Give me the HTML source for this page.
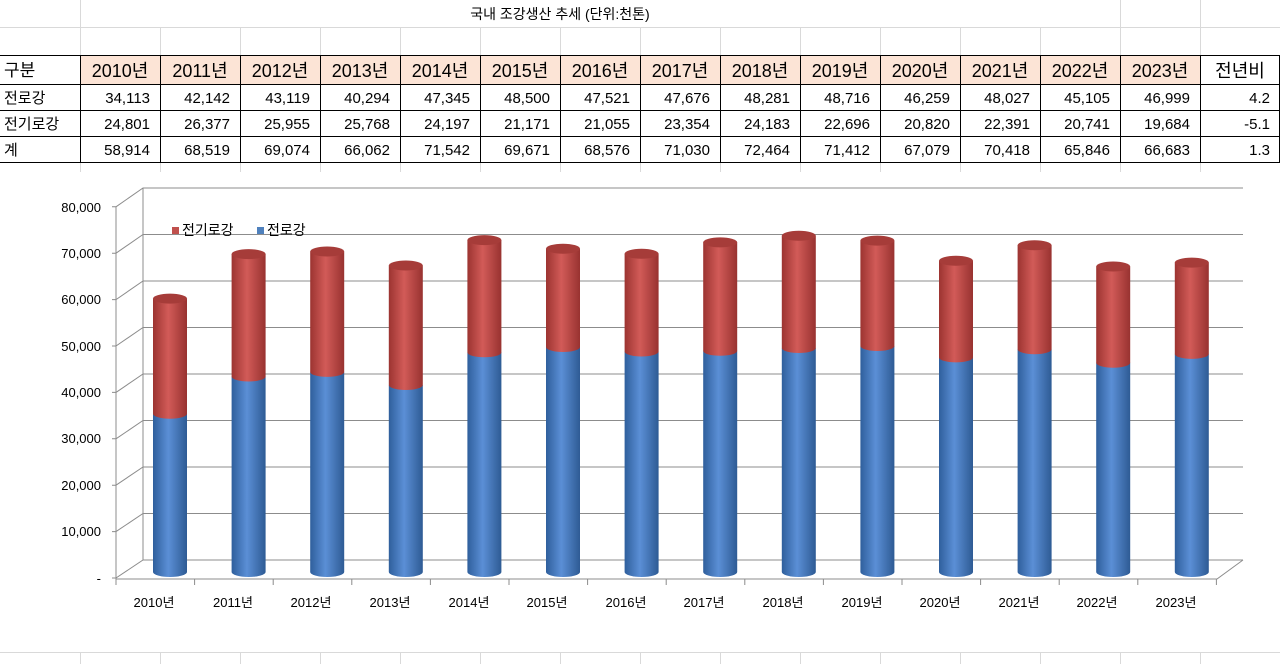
<!DOCTYPE html>
<html><head><meta charset="utf-8"><style>
body{margin:0;background:#fff}
svg{display:block}
text{font-family:"Liberation Sans","Noto Sans CJK KR",sans-serif;fill:#000}
</style></head><body>
<svg width="1280" height="664" viewBox="0 0 1280 664" xmlns="http://www.w3.org/2000/svg">
<defs>
<linearGradient id="gb" x1="0" x2="1" y1="0" y2="0"><stop offset="0" stop-color="#2f5f9c"/><stop offset="0.45" stop-color="#5b8fd6"/><stop offset="1" stop-color="#2e5b94"/></linearGradient>
<linearGradient id="gr" x1="0" x2="1" y1="0" y2="0"><stop offset="0" stop-color="#9c3431"/><stop offset="0.45" stop-color="#d25b58"/><stop offset="1" stop-color="#983230"/></linearGradient>
</defs>
<rect width="1280" height="664" fill="#fff"/>
<g stroke="#d9d9d9" stroke-width="1">
<line x1="0" y1="27.5" x2="1280" y2="27.5"/><line x1="0" y1="55.5" x2="1280" y2="55.5"/>
<line x1="80.5" y1="0" x2="80.5" y2="55"/><line x1="160.5" y1="27" x2="160.5" y2="55"/><line x1="240.5" y1="27" x2="240.5" y2="55"/><line x1="320.5" y1="27" x2="320.5" y2="55"/><line x1="400.5" y1="27" x2="400.5" y2="55"/><line x1="480.5" y1="27" x2="480.5" y2="55"/><line x1="560.5" y1="27" x2="560.5" y2="55"/><line x1="640.5" y1="27" x2="640.5" y2="55"/><line x1="720.5" y1="27" x2="720.5" y2="55"/><line x1="800.5" y1="27" x2="800.5" y2="55"/><line x1="880.5" y1="27" x2="880.5" y2="55"/><line x1="960.5" y1="27" x2="960.5" y2="55"/><line x1="1040.5" y1="27" x2="1040.5" y2="55"/><line x1="1120.5" y1="0" x2="1120.5" y2="55"/><line x1="1200.5" y1="0" x2="1200.5" y2="55"/>
<line x1="80.5" y1="162" x2="80.5" y2="172"/><line x1="160.5" y1="162" x2="160.5" y2="172"/><line x1="240.5" y1="162" x2="240.5" y2="172"/><line x1="320.5" y1="162" x2="320.5" y2="172"/><line x1="400.5" y1="162" x2="400.5" y2="172"/><line x1="480.5" y1="162" x2="480.5" y2="172"/><line x1="560.5" y1="162" x2="560.5" y2="172"/><line x1="640.5" y1="162" x2="640.5" y2="172"/><line x1="720.5" y1="162" x2="720.5" y2="172"/><line x1="800.5" y1="162" x2="800.5" y2="172"/><line x1="880.5" y1="162" x2="880.5" y2="172"/><line x1="960.5" y1="162" x2="960.5" y2="172"/><line x1="1040.5" y1="162" x2="1040.5" y2="172"/><line x1="1120.5" y1="162" x2="1120.5" y2="172"/><line x1="1200.5" y1="162" x2="1200.5" y2="172"/>
<line x1="0" y1="652.5" x2="1280" y2="652.5"/>
<line x1="80.5" y1="652" x2="80.5" y2="664"/><line x1="160.5" y1="652" x2="160.5" y2="664"/><line x1="240.5" y1="652" x2="240.5" y2="664"/><line x1="320.5" y1="652" x2="320.5" y2="664"/><line x1="400.5" y1="652" x2="400.5" y2="664"/><line x1="480.5" y1="652" x2="480.5" y2="664"/><line x1="560.5" y1="652" x2="560.5" y2="664"/><line x1="640.5" y1="652" x2="640.5" y2="664"/><line x1="720.5" y1="652" x2="720.5" y2="664"/><line x1="800.5" y1="652" x2="800.5" y2="664"/><line x1="880.5" y1="652" x2="880.5" y2="664"/><line x1="960.5" y1="652" x2="960.5" y2="664"/><line x1="1040.5" y1="652" x2="1040.5" y2="664"/><line x1="1120.5" y1="652" x2="1120.5" y2="664"/><line x1="1200.5" y1="652" x2="1200.5" y2="664"/>
</g>
<text x="560" y="19" font-size="14" text-anchor="middle">국내 조강생산 추세 (단위:천톤)</text>
<rect x="80" y="55" width="1120" height="29" fill="#fce4d6"/>
<g stroke="#000" stroke-width="1" fill="none">
<line x1="0" y1="55.5" x2="1280" y2="55.5"/><line x1="0" y1="84.5" x2="1280" y2="84.5"/><line x1="0" y1="110.5" x2="1280" y2="110.5"/><line x1="0" y1="136.5" x2="1280" y2="136.5"/><line x1="0" y1="162.5" x2="1280" y2="162.5"/>
<line x1="80.5" y1="55" x2="80.5" y2="162"/><line x1="160.5" y1="55" x2="160.5" y2="162"/><line x1="240.5" y1="55" x2="240.5" y2="162"/><line x1="320.5" y1="55" x2="320.5" y2="162"/><line x1="400.5" y1="55" x2="400.5" y2="162"/><line x1="480.5" y1="55" x2="480.5" y2="162"/><line x1="560.5" y1="55" x2="560.5" y2="162"/><line x1="640.5" y1="55" x2="640.5" y2="162"/><line x1="720.5" y1="55" x2="720.5" y2="162"/><line x1="800.5" y1="55" x2="800.5" y2="162"/><line x1="880.5" y1="55" x2="880.5" y2="162"/><line x1="960.5" y1="55" x2="960.5" y2="162"/><line x1="1040.5" y1="55" x2="1040.5" y2="162"/><line x1="1120.5" y1="55" x2="1120.5" y2="162"/><line x1="1200.5" y1="55" x2="1200.5" y2="162"/><line x1="1279.5" y1="55" x2="1279.5" y2="162"/>
</g>
<g font-size="18" text-anchor="middle">
<text x="120" y="77">2010년</text><text x="200" y="77">2011년</text><text x="280" y="77">2012년</text><text x="360" y="77">2013년</text><text x="440" y="77">2014년</text><text x="520" y="77">2015년</text><text x="600" y="77">2016년</text><text x="680" y="77">2017년</text><text x="760" y="77">2018년</text><text x="840" y="77">2019년</text><text x="920" y="77">2020년</text><text x="1000" y="77">2021년</text><text x="1080" y="77">2022년</text><text x="1160" y="77">2023년</text><text x="1240" y="77">전년비</text>
</g>
<g font-size="15">
<text x="4" y="76" font-size="17">구분</text><text x="4" y="103">전로강</text><text x="4" y="129">전기로강</text><text x="4" y="155">계</text>
</g>
<g font-size="15" text-anchor="end">
<text x="150" y="103">34,113</text><text x="230" y="103">42,142</text><text x="310" y="103">43,119</text><text x="390" y="103">40,294</text><text x="470" y="103">47,345</text><text x="550" y="103">48,500</text><text x="630" y="103">47,521</text><text x="710" y="103">47,676</text><text x="790" y="103">48,281</text><text x="870" y="103">48,716</text><text x="950" y="103">46,259</text><text x="1030" y="103">48,027</text><text x="1110" y="103">45,105</text><text x="1190" y="103">46,999</text><text x="1270" y="103">4.2</text>
<text x="150" y="129">24,801</text><text x="230" y="129">26,377</text><text x="310" y="129">25,955</text><text x="390" y="129">25,768</text><text x="470" y="129">24,197</text><text x="550" y="129">21,171</text><text x="630" y="129">21,055</text><text x="710" y="129">23,354</text><text x="790" y="129">24,183</text><text x="870" y="129">22,696</text><text x="950" y="129">20,820</text><text x="1030" y="129">22,391</text><text x="1110" y="129">20,741</text><text x="1190" y="129">19,684</text><text x="1270" y="129">-5.1</text>
<text x="150" y="155">58,914</text><text x="230" y="155">68,519</text><text x="310" y="155">69,074</text><text x="390" y="155">66,062</text><text x="470" y="155">71,542</text><text x="550" y="155">69,671</text><text x="630" y="155">68,576</text><text x="710" y="155">71,030</text><text x="790" y="155">72,464</text><text x="870" y="155">71,412</text><text x="950" y="155">67,079</text><text x="1030" y="155">70,418</text><text x="1110" y="155">65,846</text><text x="1190" y="155">66,683</text><text x="1270" y="155">1.3</text>
</g>
<g stroke="#8c8c8c" stroke-width="1" fill="none">
<path d="M116,578 L143,560 H1243 M116,531.6 L143,513.5 H1243 M116,485.2 L143,467 H1243 M116,438.8 L143,420.5 H1243 M116,392.4 L143,374 H1243 M116,346 L143,327.5 H1243 M116,299.6 L143,281 H1243 M116,253.2 L143,234.5 H1243 M116,206.8 L143,188 H1243"/>
<path d="M116,207 V579 M143,188 V560 M116,579 H1217 L1243,560"/>
<path d="M112,578H116 M112,531.6H116 M112,485.2H116 M112,438.8H116 M112,392.4H116 M112,346H116 M112,299.6H116 M112,253.2H116 M112,206.8H116"/>
<path d="M116,579V585 M194.6,579V585 M273.2,579V585 M351.8,579V585 M430.4,579V585 M509,579V585 M587.6,579V585 M666.2,579V585 M744.8,579V585 M823.4,579V585 M902,579V585 M980.6,579V585 M1059.2,579V585 M1137.8,579V585 M1216.4,579V585"/>
</g>
<g font-size="13" text-anchor="end">
<text x="101" y="583">-</text><text x="101" y="536">10,000</text><text x="101" y="490">20,000</text><text x="101" y="443">30,000</text><text x="101" y="397">40,000</text><text x="101" y="351">50,000</text><text x="101" y="304">60,000</text><text x="101" y="258">70,000</text><text x="101" y="212">80,000</text>
</g>
<g font-size="13" text-anchor="middle">
<text x="154" y="607">2010년</text><text x="233" y="607">2011년</text><text x="311" y="607">2012년</text><text x="390" y="607">2013년</text><text x="469" y="607">2014년</text><text x="547" y="607">2015년</text><text x="626" y="607">2016년</text><text x="704" y="607">2017년</text><text x="783" y="607">2018년</text><text x="862" y="607">2019년</text><text x="940" y="607">2020년</text><text x="1019" y="607">2021년</text><text x="1097" y="607">2022년</text><text x="1176" y="607">2023년</text>
</g>
<rect x="172" y="227" width="7" height="7" fill="#c0504d"/>
<text x="182" y="235" font-size="14">전기로강</text>
<rect x="257" y="227" width="7" height="7" fill="#4f81bd"/>
<text x="267" y="235" font-size="14">전로강</text>
<g>
<path fill="url(#gb)" d="M153,413.7V572A17,5 0 0 0 187,572V413.7Z"/><path fill="url(#gr)" d="M153,298.6V413.7A17,5 0 0 0 187,413.7V298.6Z"/><ellipse cx="170" cy="298.6" rx="17" ry="5" fill="#a63c39"/>
<path fill="url(#gb)" d="M231.6,376.5V572A17,5 0 0 0 265.6,572V376.5Z"/><path fill="url(#gr)" d="M231.6,254.1V376.5A17,5 0 0 0 265.6,376.5V254.1Z"/><ellipse cx="248.6" cy="254.1" rx="17" ry="5" fill="#a63c39"/>
<path fill="url(#gb)" d="M310.2,371.9V572A17,5 0 0 0 344.2,572V371.9Z"/><path fill="url(#gr)" d="M310.2,251.5V371.9A17,5 0 0 0 344.2,371.9V251.5Z"/><ellipse cx="327.2" cy="251.5" rx="17" ry="5" fill="#a63c39"/>
<path fill="url(#gb)" d="M388.8,385V572A17,5 0 0 0 422.8,572V385Z"/><path fill="url(#gr)" d="M388.8,265.5V385A17,5 0 0 0 422.8,385V265.5Z"/><ellipse cx="405.8" cy="265.5" rx="17" ry="5" fill="#a63c39"/>
<path fill="url(#gb)" d="M467.4,352.3V572A17,5 0 0 0 501.4,572V352.3Z"/><path fill="url(#gr)" d="M467.4,240.1V352.3A17,5 0 0 0 501.4,352.3V240.1Z"/><ellipse cx="484.4" cy="240.1" rx="17" ry="5" fill="#a63c39"/>
<path fill="url(#gb)" d="M546,347V572A17,5 0 0 0 580,572V347Z"/><path fill="url(#gr)" d="M546,248.7V347A17,5 0 0 0 580,347V248.7Z"/><ellipse cx="563" cy="248.7" rx="17" ry="5" fill="#a63c39"/>
<path fill="url(#gb)" d="M624.6,351.5V572A17,5 0 0 0 658.6,572V351.5Z"/><path fill="url(#gr)" d="M624.6,253.8V351.5A17,5 0 0 0 658.6,351.5V253.8Z"/><ellipse cx="641.6" cy="253.8" rx="17" ry="5" fill="#a63c39"/>
<path fill="url(#gb)" d="M703.2,350.8V572A17,5 0 0 0 737.2,572V350.8Z"/><path fill="url(#gr)" d="M703.2,242.4V350.8A17,5 0 0 0 737.2,350.8V242.4Z"/><ellipse cx="720.2" cy="242.4" rx="17" ry="5" fill="#a63c39"/>
<path fill="url(#gb)" d="M781.8,348V572A17,5 0 0 0 815.8,572V348Z"/><path fill="url(#gr)" d="M781.8,235.8V348A17,5 0 0 0 815.8,348V235.8Z"/><ellipse cx="798.8" cy="235.8" rx="17" ry="5" fill="#a63c39"/>
<path fill="url(#gb)" d="M860.4,346V572A17,5 0 0 0 894.4,572V346Z"/><path fill="url(#gr)" d="M860.4,240.6V346A17,5 0 0 0 894.4,346V240.6Z"/><ellipse cx="877.4" cy="240.6" rx="17" ry="5" fill="#a63c39"/>
<path fill="url(#gb)" d="M939,357.4V572A17,5 0 0 0 973,572V357.4Z"/><path fill="url(#gr)" d="M939,260.8V357.4A17,5 0 0 0 973,357.4V260.8Z"/><ellipse cx="956" cy="260.8" rx="17" ry="5" fill="#a63c39"/>
<path fill="url(#gb)" d="M1017.6,349.2V572A17,5 0 0 0 1051.6,572V349.2Z"/><path fill="url(#gr)" d="M1017.6,245.3V349.2A17,5 0 0 0 1051.6,349.2V245.3Z"/><ellipse cx="1034.6" cy="245.3" rx="17" ry="5" fill="#a63c39"/>
<path fill="url(#gb)" d="M1096.2,362.7V572A17,5 0 0 0 1130.2,572V362.7Z"/><path fill="url(#gr)" d="M1096.2,266.5V362.7A17,5 0 0 0 1130.2,362.7V266.5Z"/><ellipse cx="1113.2" cy="266.5" rx="17" ry="5" fill="#a63c39"/>
<path fill="url(#gb)" d="M1174.8,353.9V572A17,5 0 0 0 1208.8,572V353.9Z"/><path fill="url(#gr)" d="M1174.8,262.6V353.9A17,5 0 0 0 1208.8,353.9V262.6Z"/><ellipse cx="1191.8" cy="262.6" rx="17" ry="5" fill="#a63c39"/>
</g>
</svg>
</body></html>
